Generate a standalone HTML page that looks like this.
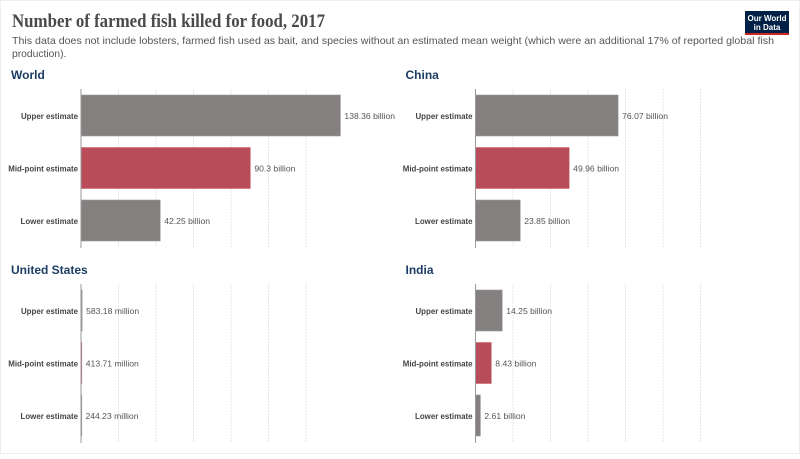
<!DOCTYPE html>
<html><head><meta charset="utf-8"><style>
body{margin:0;background:#fff;width:800px;height:454px;overflow:hidden;font-family:"Liberation Sans",sans-serif;}
</style></head><body>
<svg width="800" height="454" xmlns="http://www.w3.org/2000/svg">
<rect x="0.5" y="0.5" width="799" height="453" fill="#fff" stroke="#eee"/>
<text x="12" y="27" font-family="Liberation Serif,serif" font-size="19" font-weight="bold" fill="#4a4a4a" textLength="313" lengthAdjust="spacingAndGlyphs">Number of farmed fish killed for food, 2017</text>
<text x="12" y="44" font-size="10.3" fill="#555" textLength="762" lengthAdjust="spacingAndGlyphs">This data does not include lobsters, farmed fish used as bait, and species without an estimated mean weight (which were an additional 17% of reported global fish</text>
<text x="12" y="57" font-size="10.3" fill="#555">production).</text>
<g>
<rect x="745" y="11" width="44" height="24" fill="#002147"/>
<rect x="745" y="33" width="44" height="2" fill="#ce261e"/>
<text x="767" y="21" font-size="8" font-weight="bold" fill="#fff" text-anchor="middle">Our World</text>
<text x="767" y="30" font-size="8" font-weight="bold" fill="#fff" text-anchor="middle">in Data</text>
</g>
<g id="panels"></g>
</svg>
<script>
const countries=["World","China","United States","India"];
const categories=["Upper estimate","Mid-point estimate","Lower estimate"];
const worldValues=[138.36,90.3,42.25];
const chinaValues=[76.07,49.96,23.85];
const usValues=[0.58318,0.41371,0.24423];
const indiaValues=[14.25,8.43,2.61];
const worldLabels=["138.36 billion","90.3 billion","42.25 billion"];
const chinaLabels=["76.07 billion","49.96 billion","23.85 billion"];
const usLabels=["583.18 million","413.71 million","244.23 million"];
const indiaLabels=["14.25 billion","8.43 billion","2.61 billion"];
const gridTicks=[0,20,40,60,80,100,120];
const NS="http://www.w3.org/2000/svg";
const root=document.getElementById('panels');
const pxPer=1.875;
function x(v,x0){return x0+v*pxPer;}
function mk(tag,attrs,parent){const e=document.createElementNS(NS,tag);for(const k in attrs)e.setAttribute(k,attrs[k]);parent.appendChild(e);return e;}
const panels=[
 {name:countries[0],vals:worldValues,labs:worldLabels,x0:81,ty:79,y0:89},
 {name:countries[1],vals:chinaValues,labs:chinaLabels,x0:475.5,ty:79,y0:89},
 {name:countries[2],vals:usValues,labs:usLabels,x0:81,ty:274,y0:284},
 {name:countries[3],vals:indiaValues,labs:indiaLabels,x0:475.5,ty:274,y0:284}
];
panels.forEach((p,pi)=>{
 const g=mk('g',{},root);
 
 
 const t=mk('text',{x:p.x0-70,y:p.ty,'font-size':12,'font-weight':'bold',fill:'#1d3d63'},g);
 t.textContent=p.name;
 
 
 gridTicks.forEach((tv,i)=>{
  if(i===0)return;
  const l=mk('line',{x1:x(tv,p.x0),x2:x(tv,p.x0),y1:p.y0,y2:p.y0+159,stroke:'#e0e0e0','stroke-dasharray':'2,1','stroke-width':0.8},g);
  
  
 });
 p.vals.forEach((v,i)=>{
  const by=p.y0+6+i*52.5;
  const col=i===1?'#b84c59':'#858080';
  const r=mk('rect',{x:p.x0,y:by,width:Math.max(v*pxPer,0.8),height:41,fill:col,stroke:i===1?'#c96672':'#999','stroke-width':0.6},g);
  
  
  const lab=mk('text',{x:p.x0-3,y:by+24,'font-size':7.9,'font-weight':'bold',fill:'#444','text-anchor':'end'},g);
  lab.textContent=categories[i];
  
  
  const vl=mk('text',{x:x(v,p.x0)+4,y:by+24,'font-size':8.6,fill:'#555'},g);
  vl.textContent=p.labs[i];
  
  
 });
 const ax=mk('line',{x1:p.x0,x2:p.x0,y1:p.y0,y2:p.y0+159,stroke:'#999','stroke-width':1},g);
 
 
});
</script>
</body></html>
